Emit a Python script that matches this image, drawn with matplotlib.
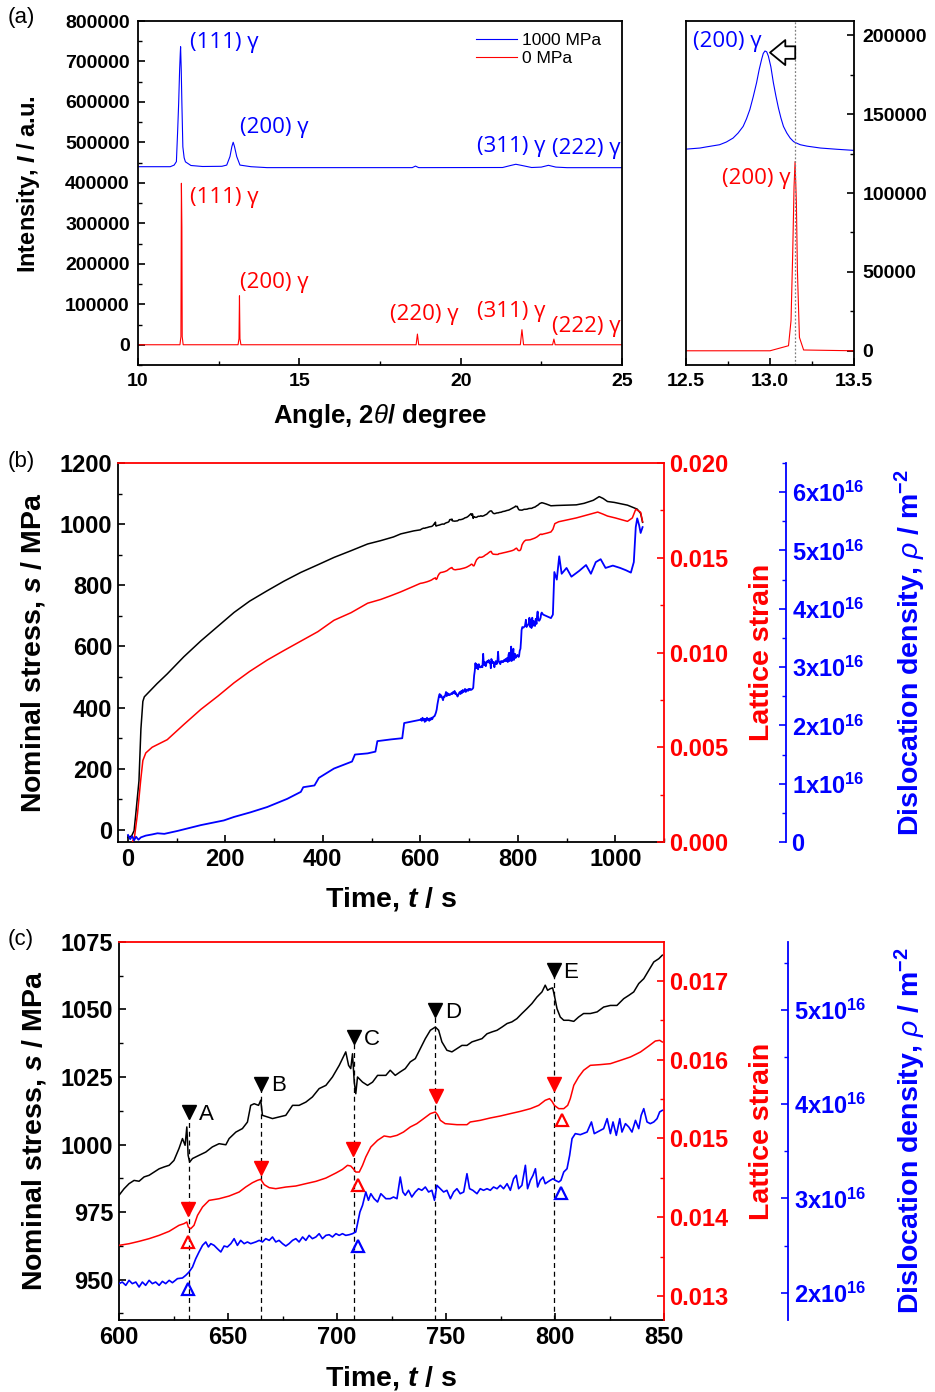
import numpy as np
import matplotlib
matplotlib.use("Agg")
import matplotlib.pyplot as plt
from matplotlib.ticker import MultipleLocator, FuncFormatter

plt.rcParams['font.family'] = ['Liberation Sans', 'DejaVu Sans']
plt.rcParams['font.weight'] = 'bold'
plt.rcParams['axes.labelweight'] = 'bold'
plt.rcParams['mathtext.fontset'] = 'custom'
plt.rcParams['mathtext.rm'] = 'Liberation Sans:weight=bold'
plt.rcParams['mathtext.bf'] = 'Liberation Sans:weight=bold'
plt.rcParams['mathtext.it'] = 'Liberation Sans:style=italic:weight=normal'
plt.rcParams['mathtext.bfit'] = 'Liberation Sans:style=italic:weight=bold'
plt.rcParams['axes.linewidth'] = 1.3
plt.rcParams['xtick.direction'] = 'in'
plt.rcParams['ytick.direction'] = 'in'

RED = '#ff0000'
BLUE = '#0000ff'

# ---------------- (a) XRD patterns ----------------
xrd_blue_x = [10.0, 11.0, 11.12, 11.19, 11.23, 11.26, 11.29, 11.31, 11.32, 11.34, 11.36, 11.39, 11.43, 11.47,
              11.64, 12.0, 12.6, 12.75, 12.85, 12.91, 12.95, 12.99, 13.06, 13.16, 13.5, 14.0, 18.5, 18.6,
              18.7, 21.3, 21.55, 21.71, 21.9, 22.2, 22.5, 22.72, 22.95, 23.3, 25.0]
xrd_blue_y = [440000, 440000, 444000, 452600, 530900, 596700, 680000, 720000, 736500, 680000, 596700, 489000, 462000, 452000,
              443000, 440500, 441000, 444000, 465000, 490000, 500400, 490000, 465000, 444000, 440000, 437700, 437700, 441500,
              437700, 438000, 443000, 446000, 443000, 438000, 439000, 443400, 439000, 437600, 437600]
xrd_red_x = [10.0, 11.30, 11.33, 11.345, 11.36, 11.37, 11.40, 13.10, 13.13, 13.145, 13.16, 13.19,
             18.62, 18.66, 18.70, 21.85, 21.90, 21.95, 22.85, 22.89, 22.93, 25.0]
xrd_red_y = [0, 0, 20000, 399000, 290000, 20000, 0, 0, 15000, 121000, 15000, 0,
             0, 26400, 0, 0, 37200, 0, 0, 14000, 0, 0]

zoom_blue_x = [12.5, 12.583, 12.62, 12.66, 12.70, 12.74, 12.78, 12.81, 12.84, 12.86, 12.88, 12.90, 12.92,
               12.935, 12.95, 12.96, 12.97, 12.98, 12.99, 13.005, 13.02, 13.035, 13.05, 13.065, 13.08,
               13.10, 13.12, 13.14, 13.15, 13.18, 13.22, 13.30, 13.40, 13.5]
zoom_blue_y = [127800, 128500, 129200, 129900, 130600, 132300, 134800, 138000, 142200, 147000, 152900, 161000, 169900,
               178000, 184700, 188500, 190000, 189500, 186800, 180000, 169900, 161500, 153900, 147500, 142200,
               138000, 134800, 132600, 132000, 130600, 129700, 128500, 127700, 127000]
zoom_red_x = [12.5, 13.0, 13.11, 13.125, 13.135, 13.143, 13.149, 13.157, 13.163, 13.175, 13.2, 13.5]
zoom_red_y = [0, 0, 3200, 19100, 61600, 104000, 119900, 93400, 51000, 8500, 500, 0]
shift_line = 13.147

# ---------------- (c) detail 600-850 s ----------------
t_c_black = [600.0, 602.3, 604.6, 606.9, 609.2, 611.5, 613.8, 616.1, 618.4, 620.7,
             623.0, 625.2, 627.5, 629.1, 630.3, 631.1, 631.7, 632.4, 633.7, 636.7,
             639.8, 642.8, 645.9, 649.0, 650.5, 653.6, 656.6, 658.9, 660.4, 662.0,
             664.0, 665.0, 665.8, 668.1, 670.4, 673.4, 676.5, 679.6, 682.6, 685.7,
             688.7, 691.8, 694.9, 697.9, 701.0, 702.5, 704.0, 705.3, 706.3, 707.1,
             707.9, 708.6, 709.4, 711.7, 714.0, 716.3, 718.6, 722.4, 724.4, 726.7,
             729.0, 731.3, 733.6, 735.9, 738.2, 740.5, 742.8, 745.1, 746.6, 748.1,
             750.4, 752.7, 755.0, 757.3, 759.6, 761.9, 764.2, 766.5, 768.8, 771.1,
             773.4, 775.7, 778.0, 780.2, 782.5, 784.8, 787.1, 789.4, 791.7, 794.0,
             795.5, 796.6, 797.8, 798.9, 799.7, 800.9, 802.4, 804.0, 806.3, 808.6,
             810.8, 813.1, 816.2, 819.3, 822.3, 825.4, 828.4, 831.5, 833.8, 836.1,
             838.4, 840.7, 843.0, 845.3, 847.6, 849.2]
stress_c = [981.2, 983.6, 985.5, 986.7, 986.4, 988.0, 988.6, 989.8, 991.0, 991.7,
            992.3, 994.1, 998.5, 1002.2, 999.7, 1006.5, 996.0, 993.5, 994.8, 996.0,
            997.2, 999.1, 1000.3, 999.9, 1002.2, 1004.6, 1005.9, 1008.3, 1014.5, 1015.1,
            1014.5, 1016.4, 1010.8, 1010.2, 1009.6, 1010.2, 1010.8, 1014.5, 1014.5, 1015.7,
            1017.6, 1020.7, 1021.9, 1025.0, 1029.3, 1031.8, 1034.3, 1029.3, 1028.1, 1033.6,
            1023.1, 1018.8, 1025.0, 1023.1, 1021.9, 1023.1, 1025.6, 1025.6, 1027.5, 1025.6,
            1026.9, 1028.1, 1030.6, 1031.8, 1035.5, 1039.2, 1042.3, 1043.5, 1042.3, 1038.0,
            1034.9, 1034.3, 1035.5, 1036.7, 1036.7, 1038.0, 1038.6, 1039.2, 1041.0, 1041.7,
            1042.3, 1043.5, 1044.8, 1045.4, 1046.6, 1048.5, 1050.3, 1052.2, 1054.6, 1056.5,
            1059.0, 1057.1, 1057.7, 1058.0, 1055.2, 1050.3, 1047.2, 1046.0, 1046.0, 1045.6,
            1047.2, 1048.5, 1048.5, 1049.1, 1050.9, 1051.5, 1051.5, 1054.0, 1055.2, 1056.5,
            1059.6, 1061.4, 1064.5, 1067.6, 1068.8, 1070.1]

t_c_red = [600.0, 604.6, 609.2, 613.8, 618.4, 623.0, 627.5, 629.8, 631.1, 631.8,
           632.9, 634.4, 636.0, 638.3, 641.3, 645.9, 650.5, 655.1, 658.1, 661.2,
           663.5, 665.0, 666.6, 668.9, 671.9, 676.5, 681.1, 685.7, 690.3, 694.9,
           699.5, 702.5, 704.8, 706.3, 707.4, 708.6, 710.2, 711.7, 713.2, 715.5,
           718.6, 721.6, 724.4, 727.5, 730.5, 733.6, 736.6, 739.7, 742.8, 745.1,
           746.1, 747.4, 749.6, 755.0, 759.6, 761.1, 765.7, 770.3, 774.9, 779.5,
           784.1, 788.7, 792.5, 795.5, 797.5, 798.6, 799.7, 801.7, 804.0, 805.8,
           807.0, 808.6, 810.8, 813.1, 816.2, 820.8, 825.4, 830.0, 834.6, 839.2,
           843.0, 846.0, 848.0, 849.2]
strain_c = [0.013646, 0.013667, 0.013697, 0.013731, 0.013773, 0.013824, 0.013900, 0.013921, 0.013942, 0.013878,
            0.013857, 0.013900, 0.014026, 0.014132, 0.014216, 0.014237, 0.014271, 0.014322, 0.014385, 0.014440,
            0.014470, 0.014483, 0.014415, 0.014377, 0.014364, 0.014385, 0.014398, 0.014428, 0.014457, 0.014499,
            0.014563, 0.014609, 0.014660, 0.014651, 0.014618, 0.014575, 0.014575, 0.014660, 0.014766, 0.014892,
            0.014977, 0.015032, 0.015019, 0.015040, 0.015082, 0.015146, 0.015188, 0.015251, 0.015315, 0.015336,
            0.015302, 0.015230, 0.015188, 0.015175, 0.015175, 0.015209, 0.015230, 0.015260, 0.015285, 0.015315,
            0.015344, 0.015378, 0.015420, 0.015484, 0.015505, 0.015471, 0.015420, 0.015378, 0.015378, 0.015420,
            0.015505, 0.015674, 0.015779, 0.015864, 0.015927, 0.015936, 0.015948, 0.015990, 0.016033, 0.016096,
            0.016172, 0.016235, 0.016244, 0.016223]

# dislocation density in units of 1e16 m^-2
t_c_blue = [600.0, 601.5, 603.1, 604.6, 606.1, 607.7, 609.2, 610.7, 612.2, 613.8,
            615.3, 616.8, 618.4, 619.9, 621.4, 623.0, 624.5, 626.8, 629.1, 630.6,
            632.1, 633.7, 635.2, 636.7, 638.3, 639.8, 641.0, 642.1, 643.6, 645.1,
            646.7, 648.2, 649.7, 651.3, 652.8, 654.3, 655.8, 657.4, 658.9, 660.4,
            662.7, 664.3, 665.8, 667.3, 668.9, 670.4, 671.9, 673.4, 675.0, 676.5,
            678.0, 679.6, 681.1, 682.6, 684.2, 685.7, 687.2, 688.7, 690.3, 691.8,
            693.3, 694.9, 696.4, 697.9, 699.5, 701.0, 702.5, 704.0, 705.6, 707.1,
            708.6, 709.4, 710.5, 711.7, 713.2, 714.4, 715.5, 717.0, 718.6, 720.1,
            722.4,
            724.4, 725.9, 727.5, 729.0, 730.2, 731.3, 732.8, 734.3, 735.9, 737.4,
            738.9, 740.5, 742.0, 743.5, 744.7, 745.8, 747.4, 748.9, 750.4, 752.0,
            753.5, 755.0, 756.5, 758.1, 759.6, 760.8, 762.3, 764.2, 765.7, 767.2,
            768.8, 770.3, 771.8, 773.4, 774.9, 776.4, 778.0, 779.5, 781.0, 782.2,
            783.3, 784.8, 786.4, 787.4, 788.7, 789.9, 791.0, 792.0, 793.2, 794.5,
            795.5, 796.6, 797.8, 799.1, 800.1, 801.7, 802.7, 804.0, 805.5, 806.7,
            807.8, 809.3, 811.6, 814.7, 816.7, 818.0, 820.0, 822.3, 823.9, 825.4,
            826.6, 828.1, 829.7, 830.7, 832.3, 833.8, 835.3, 836.9, 838.4, 839.5,
            840.7, 842.2, 843.7, 845.3, 846.8, 848.0, 849.2]
density_c = [2.096, 2.113, 2.078, 2.131, 2.096, 2.113, 2.060, 2.113, 2.078, 2.131,
             2.096, 2.113, 2.078, 2.120, 2.096, 2.131, 2.106, 2.149, 2.156, 2.184,
             2.219, 2.272, 2.361, 2.432, 2.502, 2.538, 2.485, 2.520, 2.502, 2.467,
             2.432, 2.495, 2.485, 2.520, 2.573, 2.502, 2.555, 2.520, 2.538, 2.520,
             2.538, 2.555, 2.538, 2.573, 2.555, 2.591, 2.538, 2.555, 2.520, 2.495,
             2.520, 2.555, 2.573, 2.538, 2.591, 2.555, 2.608, 2.573, 2.591, 2.626,
             2.573, 2.608, 2.615, 2.591, 2.626, 2.608, 2.626, 2.608, 2.615, 2.626,
             2.644, 2.732, 2.856, 2.927, 3.068, 2.980, 3.050, 2.997, 2.962, 3.050,
             2.997,
             2.997, 3.015, 2.997, 3.227, 3.068, 3.033, 3.086, 3.015, 3.068, 3.103,
             3.086, 3.121, 3.068, 3.086, 2.980, 3.139, 3.103, 3.068, 3.086, 2.997,
             3.068, 3.103, 3.050, 3.068, 3.262, 3.103, 3.086, 3.050, 3.103, 3.086,
             3.103, 3.086, 3.121, 3.103, 3.139, 3.103, 3.156, 3.086, 3.209, 3.245,
             3.103, 3.139, 3.351, 3.103, 3.192, 3.245, 3.315, 3.121, 3.192, 3.227,
             3.156, 3.174, 3.192, 3.209, 3.192, 3.174, 3.192, 3.280, 3.315, 3.457,
             3.634, 3.687, 3.676, 3.704, 3.811, 3.687, 3.712, 3.740, 3.846, 3.687,
             3.811, 3.669, 3.846, 3.704, 3.793, 3.758, 3.704, 3.828, 3.740, 3.881,
             3.952, 3.811, 3.793, 3.811, 3.846, 3.917, 3.934]

# event markers A-E
event_labels = ['A', 'B', 'C', 'D', 'E']
event_t = [632.0, 665.2, 707.6, 745.1, 799.3]
event_stress = [1012.0, 1022.5, 1039.8, 1049.7, 1064.5]
red_down_t = [631.7, 664.9, 707.1, 745.4, 799.4]
red_down_strain = [0.014111, 0.014626, 0.014871, 0.015539, 0.015695]
red_up_t = [631.7, 709.4, 803.2]
red_up_strain = [0.013688, 0.014406, 0.015230]
blue_up_t = [631.8, 709.4, 802.7]
blue_up_density = [2.043, 2.495, 3.061]

# ---------------- (b) whole test, outside 600-850 s ----------------
t_b_black_early = [0.6, 8, 13, 16.5, 23, 27, 31, 34, 40, 60, 81, 115, 150, 185, 218, 250, 286, 320,
                   355, 390, 423, 458, 492, 519, 545, 560, 587]
stress_b_early = [-25, -20, -3, 52, 160, 330, 420, 435, 445, 478, 510, 566, 618, 666, 711, 748, 782, 813,
                  842, 867, 891, 913, 935, 946, 958, 968, 978]
t_b_black_late = [852, 858, 868, 880, 902, 920, 936, 955, 967, 975, 984, 998, 1025, 1045, 1052, 1056]
stress_b_late = [1069, 1066, 1060, 1061, 1062, 1063, 1068, 1078, 1090, 1084, 1074, 1071, 1062, 1049, 1035, 1006]

t_b_red_early = [9.6, 14, 20, 26.7, 31, 37, 50, 81, 115, 150, 185, 218, 250, 286, 320, 355, 390, 423,
                 458, 492, 519, 540, 560, 587]
strain_b_early = [0.0, 0.0003, 0.0015, 0.0033, 0.0043, 0.0047, 0.0050, 0.0054, 0.0062, 0.0070, 0.0077,
                  0.0084, 0.0090, 0.0096, 0.0101, 0.0106, 0.0111, 0.0117, 0.0121, 0.0126, 0.0128, 0.0130,
                  0.0132, 0.0135]
t_b_red_late = [852, 860, 868, 872, 876, 884, 920, 964, 975, 984, 1000, 1025, 1035, 1042, 1052, 1056]
strain_b_late = [0.01625, 0.0163, 0.01636, 0.0165, 0.0168, 0.0169, 0.0171, 0.01741, 0.0173, 0.0172,
                 0.0171, 0.01692, 0.0171, 0.01756, 0.0174, 0.0169]

t_b_blue_early = [0.6, 5, 9, 13, 17, 22, 27, 37, 50, 61, 75, 102, 150, 197, 218, 252, 286, 327, 355, 360,
                  383, 392, 423, 460, 466, 492, 508, 512, 540, 563, 567, 590]
density_b_early = [0.12, 0.05, 0.10, 0.03, 0.09, 0.04, 0.08, 0.11, 0.13, 0.15, 0.14, 0.19, 0.29, 0.37,
                   0.43, 0.51, 0.60, 0.74, 0.86, 0.94, 0.97, 1.10, 1.26, 1.38, 1.50, 1.52, 1.55, 1.73,
                   1.76, 1.78, 2.04, 2.08]
t_b_blue_late = [852, 860, 868, 872, 875, 880, 885, 890, 900, 910, 926, 940, 950, 960, 970, 980, 995,
                 1010, 1022, 1032, 1038, 1042, 1045, 1049, 1052, 1056]
density_b_late = [3.90, 3.87, 3.84, 3.90, 4.63, 4.50, 4.90, 4.60, 4.70, 4.55, 4.65, 4.75, 4.60, 4.80,
                  4.85, 4.70, 4.74, 4.70, 4.66, 4.62, 4.80, 5.40, 5.55, 5.43, 5.30, 5.40]

t_b_black = t_b_black_early + t_c_black + t_b_black_late
stress_b = stress_b_early + stress_c + stress_b_late
t_b_red = t_b_red_early + t_c_red + t_b_red_late
strain_b = strain_b_early + strain_c + strain_b_late
t_b_blue = t_b_blue_early + t_c_blue + t_b_blue_late
density_b = density_b_early + density_c + density_b_late


def dens_fmt(v, pos):
    n = int(round(v))
    if n == 0:
        return '0'
    return r'$\mathbf{%dx10^{16}}$' % n


def style_ticks(ax, size, color='black', pad=4):
    ax.tick_params(which='major', length=5, width=1.2, labelsize=size, colors=color, pad=pad)
    ax.tick_params(which='minor', length=3, width=1.0, colors=color)


def three_axes(rect, off):
    ax = fig.add_axes(rect)
    axr = ax.twinx()
    axd = ax.twinx()
    axd.spines['right'].set_position(('axes', off))
    for s in ['left', 'bottom']:
        axr.spines[s].set_visible(False)
    for s in ['left', 'bottom', 'top']:
        axd.spines[s].set_visible(False)
    axr.spines['right'].set_color(RED)
    axr.spines['top'].set_color(RED)
    axd.spines['right'].set_color(BLUE)
    ax.spines['top'].set_visible(False)
    ax.spines['right'].set_visible(False)
    return ax, axr, axd


fig = plt.figure(figsize=(9.35, 13.92), dpi=100)

# ----- (a) left -----
ax_a = fig.add_axes([0.1476, 0.7378, 0.5176, 0.2471])
ax_a.plot(xrd_blue_x, xrd_blue_y, color=BLUE, lw=0.8, label='1000 MPa')
ax_a.plot(xrd_red_x, xrd_red_y, color=RED, lw=0.8, label='0 MPa')
ax_a.set_xlim(10, 25)
ax_a.set_ylim(-50000, 800000)
ax_a.xaxis.set_major_locator(MultipleLocator(5))
ax_a.xaxis.set_minor_locator(MultipleLocator(2.5))
ax_a.yaxis.set_major_locator(MultipleLocator(100000))
ax_a.yaxis.set_minor_locator(MultipleLocator(50000))
style_ticks(ax_a, 14, pad=6)
ax_a.set_xlabel(r'Angle, 2$\theta$/ degree', fontsize=18.5)
ax_a.xaxis.set_label_coords(0.5, -0.108)
ax_a.set_ylabel(r'Intensity, $\mathbfit{I}$ / a.u.', fontsize=17)
ax_a.yaxis.set_label_coords(-0.198, 0.526)
ax_a.legend(loc='upper left', bbox_to_anchor=(0.68, 0.99), frameon=False, borderpad=0,
            handlelength=2.4, handletextpad=0.25, labelspacing=0.15,
            prop={'size': 12.5, 'weight': 'normal'})
lab_kw = dict(fontsize=16, fontweight='normal', family=['Open Sans', 'DejaVu Sans'], va='center', ha='left')
ax_a.text(11.61, 745700, '(111) γ', color=BLUE, **lab_kw)
ax_a.text(13.16, 538000, '(200) γ', color=BLUE, **lab_kw)
ax_a.text(20.5, 489000, '(311) γ', color=BLUE, **lab_kw)
ax_a.text(22.83, 484000, '(222) γ', color=BLUE, **lab_kw)
ax_a.text(11.61, 365000, '(111) γ', color=RED, **lab_kw)
ax_a.text(13.16, 153000, '(200) γ', color=RED, **lab_kw)
ax_a.text(17.81, 74000, '(220) γ', color=RED, **lab_kw)
ax_a.text(20.5, 81500, '(311) γ', color=RED, **lab_kw)
ax_a.text(22.83, 44000, '(222) γ', color=RED, **lab_kw)

# ----- (a) right -----
ax_z = fig.add_axes([0.7337, 0.7378, 0.1797, 0.2471])
ax_z.plot(zoom_blue_x, zoom_blue_y, color=BLUE, lw=0.8)
ax_z.plot(zoom_red_x, zoom_red_y, color=RED, lw=0.8)
ax_z.axvline(shift_line, color='gray', lw=0.9, ls=(0, (1.5, 1.5)))
ax_z.set_xlim(12.5, 13.5)
ax_z.set_ylim(-9000, 209000)
ax_z.yaxis.tick_right()
ax_z.xaxis.set_major_locator(MultipleLocator(0.5))
ax_z.xaxis.set_minor_locator(MultipleLocator(0.25))
ax_z.xaxis.set_major_formatter(FuncFormatter(lambda v, p: '%.1f' % v))
ax_z.yaxis.set_major_locator(MultipleLocator(50000))
ax_z.yaxis.set_minor_locator(MultipleLocator(25000))
style_ticks(ax_z, 14, pad=6)
ax_z.text(12.54, 196200, '(200) γ', color=BLUE, **lab_kw)
ax_z.text(12.714, 108900, '(200) γ', color=RED, **lab_kw)
ax_z.annotate('', xy=(13.0, 189000), xytext=(13.15, 189000),
              arrowprops=dict(arrowstyle='simple,head_width=0.9,head_length=0.55,tail_width=0.45',
                              fc='white', ec='black', lw=1.3, mutation_scale=20, shrinkA=0, shrinkB=0))

# ----- (b) -----
ax_b, ax_br, ax_bd = three_axes([0.1262, 0.3951, 0.584, 0.2723], 1.2234)
ax_b.plot(t_b_black, stress_b, color='black', lw=1.1)
ax_br.plot(t_b_red, strain_b, color=RED, lw=1.1)
ax_bd.plot(t_b_blue, density_b, color=BLUE, lw=1.3)
ax_b.set_xlim(-20, 1100)
ax_b.set_ylim(-40, 1200)
ax_br.set_ylim(0, 0.020)
ax_bd.set_ylim(0, 6.5)
ax_b.xaxis.set_major_locator(MultipleLocator(200))
ax_b.xaxis.set_minor_locator(MultipleLocator(100))
ax_b.yaxis.set_major_locator(MultipleLocator(200))
ax_b.yaxis.set_minor_locator(MultipleLocator(100))
ax_br.yaxis.set_major_locator(MultipleLocator(0.005))
ax_br.yaxis.set_minor_locator(MultipleLocator(0.0025))
ax_br.yaxis.set_major_formatter(FuncFormatter(lambda v, p: '%.3f' % v))
ax_bd.yaxis.set_major_locator(MultipleLocator(1))
ax_bd.yaxis.set_minor_locator(MultipleLocator(0.5))
ax_bd.yaxis.set_major_formatter(FuncFormatter(dens_fmt))

# ----- (c) -----
ax_c, ax_cr, ax_cd = three_axes([0.1273, 0.0517, 0.5829, 0.2716], 1.2275)
ax_c.plot(t_c_black, stress_c, color='black', lw=1.1)
ax_cr.plot(t_c_red, strain_c, color=RED, lw=1.1)
ax_cd.plot(t_c_blue, density_c, color=BLUE, lw=1.2)
ax_c.set_xlim(600, 850)
ax_c.set_ylim(935, 1075)
ax_cr.set_ylim(0.0127, 0.01749)
ax_cd.set_ylim(1.71, 5.72)
ax_c.xaxis.set_major_locator(MultipleLocator(50))
ax_c.xaxis.set_minor_locator(MultipleLocator(25))
ax_c.yaxis.set_major_locator(MultipleLocator(25))
ax_c.yaxis.set_minor_locator(MultipleLocator(12.5))
ax_cr.yaxis.set_major_locator(MultipleLocator(0.001))
ax_cr.yaxis.set_minor_locator(MultipleLocator(0.0005))
ax_cr.yaxis.set_major_formatter(FuncFormatter(lambda v, p: '%.3f' % v))
ax_cd.yaxis.set_major_locator(MultipleLocator(1))
ax_cd.yaxis.set_minor_locator(MultipleLocator(0.5))
ax_cd.yaxis.set_major_formatter(FuncFormatter(dens_fmt))

for i in range(len(event_t)):
    ax_c.plot([event_t[i], event_t[i]], [935, event_stress[i] - 1.5], color='black', lw=0.9,
              ls=(0, (4, 3)))
    ax_c.text(event_t[i] + 4.5, event_stress[i] - 0.8, event_labels[i], fontsize=16,
              fontweight='normal', va='center', ha='left')
ax_c.plot(event_t, event_stress, 'v', color='black', ms=10, ls='none')
ax_cr.plot(red_down_t, red_down_strain, 'v', color=RED, ms=10, ls='none')
ax_cr.plot(red_up_t, red_up_strain, '^', mfc='none', mec=RED, mew=1.6, ms=9, ls='none')
ax_cd.plot(blue_up_t, blue_up_density, '^', mfc='none', mec=BLUE, mew=1.6, ms=9, ls='none')

for ax, axr, axd, xl, yl, rl, dl in [(ax_b, ax_br, ax_bd, -0.113, -0.130, 1.156, 1.419),
                                     (ax_c, ax_cr, ax_cd, -0.117, -0.130, 1.156, 1.420)]:
    style_ticks(ax, 17)
    style_ticks(axr, 17, RED)
    style_ticks(axd, 17, BLUE)
    ax.set_xlabel(r'Time, $\mathbfit{t}$ / s', fontsize=20.5)
    ax.xaxis.set_label_coords(0.5, xl)
    ax.set_ylabel(r'Nominal stress, $\mathbfit{s}$ / MPa', fontsize=20.5)
    ax.yaxis.set_label_coords(yl, 0.5)
    axr.set_ylabel('Lattice strain', fontsize=20.5, color=RED)
    axr.yaxis.set_label_coords(rl, 0.5)
    axd.set_ylabel(r'Dislocation density, $\rho$ / m$^{\mathbf{-2}}$', fontsize=20.5, color=BLUE)
    axd.yaxis.set_label_coords(dl, 0.5)

fig.text(0.008, 1 - 18 / 1392, '(a)', fontsize=16, fontweight='normal', va='center')
fig.text(0.008, 1 - 462 / 1392, '(b)', fontsize=16, fontweight='normal', va='center')
fig.text(0.008, 1 - 940 / 1392, '(c)', fontsize=16, fontweight='normal', va='center')

fig.savefig('out.png', dpi=100)
